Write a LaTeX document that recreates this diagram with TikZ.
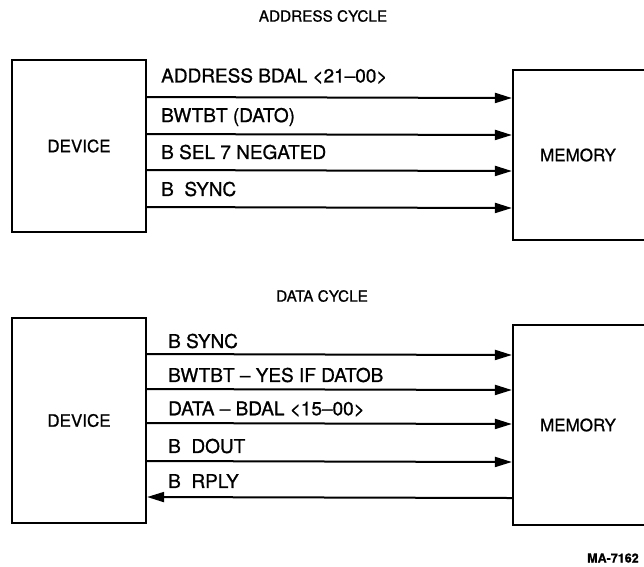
\documentclass[tikz,border=0pt]{standalone}
\usepackage{fontspec}
\setmainfont[FakeBold=0.9]{TeX Gyre Heros}
\usetikzlibrary{arrows.meta}
\begin{document}
\begin{tikzpicture}[
  x=1pt, y=-1pt,
  font=\fontsize{19}{21}\selectfont,
  blk/.style={draw, line width=2.2pt, inner sep=0pt, font=\fontsize{17}{19}\selectfont},
  sig/.style={line width=2pt, -{Triangle[length=17pt,width=10pt]}},
  lbl/.style={anchor=west, inner sep=0pt},
  ttl/.style={inner sep=0pt, font=\fontsize{15.3}{17}\selectfont}
]
\useasboundingbox (0,0) rectangle (644,566);

% address cycle
\node[ttl] (ttladdr) at (323,16) {ADDRESS CYCLE};
\node[blk, minimum width=134pt, minimum height=172pt] (dev1) at (79,146) {DEVICE};
\node[blk, minimum width=150pt, minimum height=170pt,
  label={[xshift=-10pt, font=\fontsize{17}{19}\selectfont]center:MEMORY}] (mem1) at (588,155) {};

\node[lbl] (a1) at (161,76) {ADDRESS BDAL <21--00>};
\node[lbl] (a2) at (161,117) {BWTBT (DATO)};
\node[lbl] (a3) at (161,152) {B SEL 7 NEGATED};
\node[lbl] (a4) at (161,189) {B\ \ SYNC};

\draw[sig] (dev1.east |- 0,97) -- (mem1.west |- 0,98);
\draw[sig] (dev1.east |- 0,134) -- (mem1.west |- 0,135);
\draw[sig] (dev1.east |- 0,170) -- (mem1.west |- 0,171);
\draw[sig] (dev1.east |- 0,207) -- (mem1.west |- 0,208);

% data cycle
\node[ttl] (ttldata) at (322,296) {DATA CYCLE};
\node[blk, minimum width=134pt, minimum height=205pt] (dev2) at (79,420.5) {DEVICE};
\node[blk, minimum width=150pt, minimum height=200pt,
  label={[xshift=-10pt, font=\fontsize{17}{19}\selectfont]center:MEMORY}] (mem2) at (588,425) {};

\node[lbl] (d1) at (168,341) {B SYNC};
\node[lbl] (d2) at (168,375) {BWTBT -- YES IF DATOB};
\node[lbl] (d3) at (168,409) {DATA -- BDAL <15--00>};
\node[lbl] (d4) at (168,446) {B\ \ DOUT};
\node[lbl] (d5) at (168,481) {B\ \ RPLY};

\draw[sig] (dev2.east |- 0,354) -- (mem2.west |- 0,355);
\draw[sig] (dev2.east |- 0,389) -- (mem2.west |- 0,390);
\draw[sig] (dev2.east |- 0,423) -- (mem2.west |- 0,424);
\draw[sig] (dev2.east |- 0,461) -- (mem2.west |- 0,462);
\draw[sig] (mem2.west |- 0,498) -- (dev2.east |- 0,497);

\node[anchor=west, inner sep=0pt, font=\bfseries\fontsize{12.5}{14}\selectfont] (fig) at (587,558) {MA-7162};
\end{tikzpicture}
\end{document}
